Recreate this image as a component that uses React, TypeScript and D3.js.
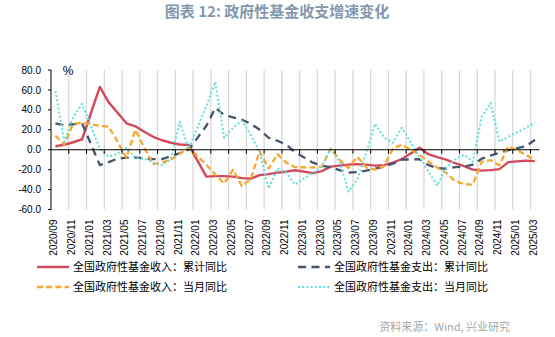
import React from 'react';
import * as d3 from 'd3';

const months: string[] = [
  '2020/09','2020/10','2020/11','2020/12',
  '2021/01','2021/02','2021/03','2021/04','2021/05','2021/06','2021/07','2021/08','2021/09','2021/10','2021/11','2021/12',
  '2022/01','2022/02','2022/03','2022/04','2022/05','2022/06','2022/07','2022/08','2022/09','2022/10','2022/11','2022/12',
  '2023/01','2023/02','2023/03','2023/04','2023/05','2023/06','2023/07','2023/08','2023/09','2023/10','2023/11','2023/12',
  '2024/01','2024/02','2024/03','2024/04','2024/05','2024/06','2024/07','2024/08','2024/09','2024/10','2024/11','2024/12',
  '2025/01','2025/02','2025/03',
];

// 全国政府性基金收入：累计同比
const cumIncome: (number | null)[] = [
  3.5, 5, 7.5, 10.5,
  null, 63, 47.5, 37, 26.5, 23.5, 18, 13, 9.5, 7, 5.2, 4.8,
  null, -27, -26.5, -26.5, -27, -28.5, -29, -25.5, -24.5, -23, -22, -20.6,
  null, -23.5, -21.5, -17, -16, -15, -14.5, -15, -16, -15.5, -13, -9.5,
  null, 2, -4.5, -7.5, -10, -13.5, -16.5, -20, -21, -20.5, -19.5, -12.5,
  null, -11, -11.5,
];

// 全国政府性基金支出：累计同比
const cumExpend: (number | null)[] = [
  26.5, 24.5, 25.5, 26.5,
  null, -15.5, -12.5, -9, -8, -8, -8.5, -9.5, -9.5, -6.5, -3.5, 0,
  null, 24, 42, 35, 32.5, 30, 26, 20, 12, 9, 5, -2.5,
  null, -13, -16, -17.5, -20.5, -23, -22.5, -21, -19, -17, -14, -10,
  null, -9.5, -15.5, -18.5, -19, -17.5, -17, -15, -9, -6, -3, -0.5,
  null, 3.5, 10,
];

// 全国政府性基金收入：当月同比
const monIncome: (number | null)[] = [
  14, 5, 26, 27,
  null, 24, 23, 8, -8, 20, 2, -14.5, -13, -10, -4, 2,
  null, -15, -25, -34, -20, -36.5, -29.5, -1.5, -19, -4.5, -13, -17.5,
  null, -17.8, -17, 1, -10, -18.5, -7, -18, -20, -16.5, 1, 5,
  null, -5, -12, -18, -23, -31.5, -34.5, -35, -12, -10.5, -15.5, 3.5,
  null, -5, -11,
];

// 全国政府性基金支出：当月同比
const monExpend: (number | null)[] = [
  59, 8, 33, 46,
  null, 1, -7, -4, 2, -8.5, -9, -13, -15.5, -10, 28, 1,
  null, 44, 68, 12, 22, 29, 15, -3, -39, -19, -23, -35,
  null, -23, -17, 1, -12, -42, -30, -3, 26, 12, 7, 22,
  null, -7, -22, -36, -18, -10, -5, -12, 33, 47, 8, 13,
  null, 22, 27,
];

const yTicks: number[] = [80, 60, 40, 20, 0, -20, -40, -60];

const seriesNames: string[] = [
  '全国政府性基金收入：累计同比',
  '全国政府性基金支出：累计同比',
  '全国政府性基金收入：当月同比',
  '全国政府性基金支出：当月同比',
];

const colors = ['#d2495d', '#44546a', '#f8a62e', '#5fe0dc'];
const dashes = ['', '8,5.5', '6,3.2', '2,2.2'];
const widths = [2.4, 2.3, 2.3, 2];

export default function App() {
  const W = 555;
  const H = 337;
  const left = 51;
  const right = 539.4;
  const top = 70;
  const bottom = 209.5;

  const x = d3.scaleBand<string>().domain(months).range([left, right]).padding(0);
  const y = d3.scaleLinear().domain([-60, 80]).range([bottom, top]);
  const cx = (m: string) => (x(m) as number) + x.bandwidth() / 2;

  const lineGen = d3.line<[number, number]>().x((d) => d[0]).y((d) => d[1]);
  const makePath = (vals: (number | null)[]) => {
    const pts: [number, number][] = [];
    months.forEach((m, i) => {
      const v = vals[i];
      if (v !== null && v !== undefined) pts.push([cx(m), y(v)]);
    });
    return lineGen(pts) || '';
  };

  const allSeries = [cumIncome, cumExpend, monIncome, monExpend];
  const tickMonths = months.filter((_, i) => i % 2 === 0);
  const y0 = y(0);

  const legendPos = [
    { x1: 37, y: 267 },
    { x1: 298, y: 267 },
    { x1: 37, y: 287 },
    { x1: 298, y: 287 },
  ];

  return (
    <svg
      width={W}
      height={H}
      viewBox={`0 0 ${W} ${H}`}
      style={{ position: 'absolute', left: 0, top: 0, display: 'block', background: '#fff' }}
    >
      <rect x={0} y={0} width={W} height={H} fill="#fff" />
      <text
        x={277}
        y={17}
        textAnchor="middle"
        fontFamily="'Noto Sans CJK SC', 'Noto Sans', sans-serif"
        fontWeight={700}
        fontSize={15}
        fill="#8497b0"
      >
        图表 12: 政府性基金收支增速变化
      </text>

      {/* vertical gridlines */}
      {tickMonths.slice(1).map((m) => (
        <line
          key={'g' + m}
          x1={x(m) as number}
          x2={x(m) as number}
          y1={top}
          y2={bottom}
          stroke="#d9d9d9"
          strokeWidth={1.3}
        />
      ))}

      {/* y axis */}
      <line x1={left} x2={left} y1={top} y2={bottom + 0.5} stroke="#000" strokeWidth={1} />
      {yTicks.map((t) => (
        <g key={'yt' + t}>
          <line x1={left - 3} x2={left} y1={y(t)} y2={y(t)} stroke="#000" strokeWidth={1} />
          <text
            x={41}
            y={y(t) + 3.6}
            textAnchor="end"
            fontFamily="'Liberation Sans', Arial, sans-serif"
            fontSize={10}
            fill="#000"
          >
            {t.toFixed(1)}
          </text>
        </g>
      ))}
      <text x={68} y={75} textAnchor="middle" fontFamily="'Liberation Sans', Arial, sans-serif" fontSize={12} fill="#000">
        %
      </text>

      {/* series */}
      {allSeries.map((vals, k) => (
        <path
          key={'s' + k}
          d={makePath(vals)}
          fill="none"
          stroke={colors[k]}
          strokeWidth={widths[k]}
          strokeDasharray={dashes[k] || undefined}
          strokeLinejoin="round"
          strokeLinecap="butt"
        />
      ))}

      {/* zero axis */}
      <line x1={left} x2={right} y1={y0} y2={y0} stroke="#000" strokeWidth={1.1} />
      {tickMonths.slice(1).map((m) => (
        <line key={'t' + m} x1={x(m) as number} x2={x(m) as number} y1={y0} y2={y0 + 4} stroke="#000" strokeWidth={1} />
      ))}

      {/* x labels */}
      {tickMonths.map((m) => (
        <text
          key={'xl' + m}
          transform={`translate(${cx(m) + 1.8},219.5) rotate(-90)`}
          textAnchor="end"
          fontFamily="'Liberation Sans', Arial, sans-serif"
          fontSize={10}
          fill="#000"
        >
          {m}
        </text>
      ))}

      {/* legend */}
      {seriesNames.map((name, k) => (
        <g key={'lg' + k}>
          <line
            x1={legendPos[k].x1}
            x2={legendPos[k].x1 + 32}
            y1={legendPos[k].y}
            y2={legendPos[k].y}
            stroke={colors[k]}
            strokeWidth={widths[k]}
            strokeDasharray={dashes[k] || undefined}
            strokeLinecap="butt"
          />
          <text
            x={legendPos[k].x1 + 36}
            y={legendPos[k].y + 4}
            fontFamily="'Noto Sans CJK SC', sans-serif"
            fontSize={11}
            fill="#000"
          >
            {name}
          </text>
        </g>
      ))}

      <text
        x={510}
        y={331}
        textAnchor="end"
        fontFamily="'Noto Sans CJK SC', sans-serif"
        fontSize={11}
        fill="#a6a6a6"
      >
        资料来源：Wind, 兴业研究
      </text>
    </svg>
  );
}
